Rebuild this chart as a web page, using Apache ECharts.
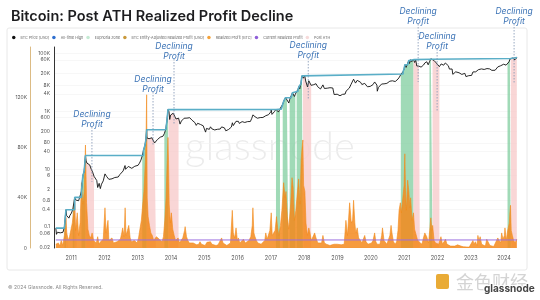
<!DOCTYPE html>
<html>
<head>
<meta charset="utf-8">
<script src="https://cdn.jsdelivr.net/npm/echarts@6/dist/echarts.min.js"></script>
<style>
html,body{margin:0;padding:0;background:#fff;}
#chart{width:540px;height:300px;}
</style>
</head>
<body>
<div id="chart"></div>
<script>
// BTC price [USD]
const btcPrice = [
['2010-07-18',0.09],['2010-07-25',0.055],['2010-08-05',0.065],['2010-08-20',0.066],['2010-09-05',0.062],['2010-09-20',0.062],['2010-10-05',0.065],['2010-10-20',0.1],['2010-11-06',0.39],['2010-11-12',0.25],['2010-11-25',0.28],['2010-12-08',0.2],['2010-12-20',0.25],
['2011-01-05',0.3],['2011-01-20',0.4],['2011-02-10',1.05],['2011-02-20',0.85],['2011-03-05',0.9],['2011-03-25',0.8],['2011-04-10',0.8],['2011-04-25',1.7],['2011-05-10',5.8],['2011-05-25',8.5],['2011-06-08',29.6],['2011-06-15',19],['2011-06-25',16],['2011-07-10',15],['2011-07-25',13.9],['2011-08-10',9.9],['2011-08-25',8],['2011-09-10',5.6],['2011-09-25',5],['2011-10-10',4],['2011-10-20',2.3],['2011-11-05',3.2],['2011-11-18',2.1],['2011-12-01',3],['2011-12-20',3.9],
['2012-01-08',6.8],['2012-01-25',5.6],['2012-02-10',5.8],['2012-02-20',4.4],['2012-03-10',4.9],['2012-03-25',4.6],['2012-04-10',4.9],['2012-04-25',5.1],['2012-05-15',5],['2012-06-01',5.3],['2012-06-20',6.5],['2012-07-10',7.2],['2012-07-25',8.6],['2012-08-15',13.2],['2012-08-20',9.8],['2012-09-05',11],['2012-09-20',12.3],['2012-10-10',12],['2012-10-28',10.6],['2012-11-15',11.2],['2012-11-30',12.5],['2012-12-15',13.3],
['2013-01-05',13.5],['2013-01-20',16],['2013-02-05',20.4],['2013-02-20',29],['2013-03-05',44],['2013-03-20',64],['2013-04-01',104],['2013-04-09',230],['2013-04-12',120],['2013-04-20',125],['2013-05-05',112],['2013-05-20',122],['2013-06-05',121],['2013-06-20',108],['2013-07-05',80],['2013-07-20',90],['2013-08-05',105],['2013-08-20',115],['2013-09-05',127],['2013-09-20',126],['2013-10-05',137],['2013-10-20',170],['2013-11-05',240],['2013-11-18',490],['2013-11-29',1140],['2013-12-04',1151],['2013-12-10',960],['2013-12-18',520],['2013-12-28',740],
['2014-01-10',850],['2014-01-25',860],['2014-02-10',680],['2014-02-25',540],['2014-03-10',620],['2014-03-25',580],['2014-04-10',360],['2014-04-25',460],['2014-05-10',440],['2014-05-25',575],['2014-06-10',650],['2014-06-25',580],['2014-07-10',625],['2014-07-25',600],['2014-08-10',590],['2014-08-20',490],['2014-09-05',480],['2014-09-20',405],['2014-10-05',325],['2014-10-20',385],['2014-11-05',340],['2014-11-20',350],['2014-12-05',375],['2014-12-20',315],
['2015-01-05',275],['2015-01-15',190],['2015-01-25',255],['2015-02-10',220],['2015-02-25',237],['2015-03-10',290],['2015-03-25',247],['2015-04-10',236],['2015-04-25',226],['2015-05-10',242],['2015-05-25',238],['2015-06-10',229],['2015-06-25',243],['2015-07-10',288],['2015-07-25',289],['2015-08-10',266],['2015-08-25',211],['2015-09-10',240],['2015-09-25',235],['2015-10-10',245],['2015-10-25',285],['2015-11-05',400],['2015-11-15',320],['2015-11-30',375],['2015-12-15',450],['2015-12-30',428],
['2016-01-10',447],['2016-01-20',380],['2016-02-05',387],['2016-02-20',438],['2016-03-05',400],['2016-03-20',410],['2016-04-05',422],['2016-04-20',440],['2016-05-05',448],['2016-05-20',442],['2016-06-05',575],['2016-06-17',750],['2016-06-28',640],['2016-07-10',650],['2016-07-25',655],['2016-08-05',575],['2016-08-20',580],['2016-09-05',606],['2016-09-20',610],['2016-10-05',610],['2016-10-20',630],['2016-11-05',703],['2016-11-20',730],['2016-12-05',760],['2016-12-20',790],['2016-12-31',963],
['2017-01-04',1150],['2017-01-12',780],['2017-01-25',890],['2017-02-10',990],['2017-02-25',1180],['2017-03-10',1190],['2017-03-24',940],['2017-04-10',1210],['2017-04-25',1270],['2017-05-10',1760],['2017-05-25',2400],['2017-06-10',2950],['2017-06-25',2500],['2017-07-10',2350],['2017-07-16',1930],['2017-07-25',2560],['2017-08-10',3400],['2017-08-25',4350],['2017-09-01',4900],['2017-09-15',3250],['2017-09-25',3900],['2017-10-10',4780],['2017-10-25',5750],['2017-11-08',7450],['2017-11-12',5900],['2017-11-25',8750],['2017-12-07',16800],['2017-12-17',19500],['2017-12-22',14000],['2017-12-31',14150],
['2018-01-06',17200],['2018-01-17',11200],['2018-01-28',11800],['2018-02-06',6950],['2018-02-20',11400],['2018-03-05',11500],['2018-03-18',7900],['2018-04-01',6850],['2018-04-15',8350],['2018-04-28',9400],['2018-05-10',9000],['2018-05-28',7100],['2018-06-12',6500],['2018-06-28',5900],['2018-07-10',6350],['2018-07-25',8200],['2018-08-10',6150],['2018-08-25',6700],['2018-09-10',6300],['2018-09-25',6450],['2018-10-10',6550],['2018-10-25',6400],['2018-11-10',6400],['2018-11-25',3800],['2018-12-15',3250],['2018-12-28',3900],
['2019-01-10',3650],['2019-01-28',3450],['2019-02-10',3650],['2019-02-25',3850],['2019-03-10',3950],['2019-03-25',3950],['2019-04-05',5000],['2019-04-25',5450],['2019-05-10',6350],['2019-05-30',8650],['2019-06-10',8000],['2019-06-26',12900],['2019-07-10',12100],['2019-07-17',9450],['2019-08-05',11750],['2019-08-25',10150],['2019-09-10',10150],['2019-09-25',8450],['2019-10-10',8600],['2019-10-26',9250],['2019-11-10',8800],['2019-11-25',7050],['2019-12-10',7250],['2019-12-25',7250],
['2020-01-10',8050],['2020-01-25',8400],['2020-02-12',10350],['2020-02-25',9300],['2020-03-08',8050],['2020-03-12',4950],['2020-03-25',6700],['2020-04-10',6900],['2020-04-29',8800],['2020-05-10',8750],['2020-05-25',8900],['2020-06-10',9900],['2020-06-25',9250],['2020-07-10',9250],['2020-07-28',11000],['2020-08-10',11900],['2020-08-25',11350],['2020-09-10',10350],['2020-09-25',10700],['2020-10-10',11300],['2020-10-25',13000],['2020-11-10',15300],['2020-11-25',18750],['2020-12-10',18300],['2020-12-20',23850],['2020-12-31',28950],
['2021-01-08',40600],['2021-01-22',33000],['2021-02-08',46200],['2021-02-21',57500],['2021-02-28',45200],['2021-03-13',61200],['2021-03-25',52000],['2021-04-13',63500],['2021-04-25',49000],['2021-05-08',58800],['2021-05-19',37000],['2021-05-30',35700],['2021-06-10',36700],['2021-06-22',32500],['2021-07-05',33800],['2021-07-20',29800],['2021-08-01',39900],['2021-08-15',47000],['2021-09-06',51800],['2021-09-21',40600],['2021-10-05',51500],['2021-10-20',66000],['2021-11-08',67500],['2021-11-25',57000],['2021-12-05',49400],['2021-12-20',46700],
['2022-01-05',43400],['2022-01-22',35100],['2022-02-10',43500],['2022-02-24',38300],['2022-03-10',39400],['2022-03-28',47100],['2022-04-15',40500],['2022-04-30',37700],['2022-05-12',28900],['2022-05-28',29400],['2022-06-10',29100],['2022-06-18',19000],['2022-07-05',20200],['2022-07-20',23200],['2022-08-10',23900],['2022-08-25',21600],['2022-09-10',21800],['2022-09-25',18900],['2022-10-10',19100],['2022-10-28',20600],['2022-11-09',15900],['2022-11-25',16500],['2022-12-10',17100],['2022-12-28',16550],
['2023-01-10',17450],['2023-01-25',23000],['2023-02-10',21600],['2023-02-25',23200],['2023-03-10',20200],['2023-03-25',27500],['2023-04-14',30500],['2023-04-28',29300],['2023-05-12',26800],['2023-05-28',28000],['2023-06-14',25100],['2023-06-28',30100],['2023-07-13',31400],['2023-07-28',29300],['2023-08-12',29400],['2023-08-20',26100],['2023-09-10',25800],['2023-09-25',26300],['2023-10-10',27400],['2023-10-25',34500],['2023-11-10',37300],['2023-11-25',37700],['2023-12-08',44200],['2023-12-28',42600],
['2024-01-10',46600],['2024-01-23',39500],['2024-02-08',45300],['2024-02-25',51700],['2024-03-05',63700],['2024-03-14',73100],['2024-03-20',67900],['2024-04-01',69700],['2024-04-15',63400],['2024-04-30',60600],['2024-05-10',60800],['2024-05-20',71400]
];

// all-time high steps (date the new high was set, value)
const allTimeHigh = [
['2010-07-18',0.09],['2010-10-20',0.1],['2010-11-06',0.39],['2011-02-10',1.05],['2011-04-25',1.7],['2011-05-10',5.8],['2011-05-25',8.5],['2011-06-08',29.6],
['2013-03-05',44],['2013-03-20',64],['2013-04-01',104],['2013-04-09',230],
['2013-11-05',240],['2013-11-18',490],['2013-11-29',1140],['2013-12-04',1151],
['2017-02-25',1180],['2017-03-10',1190],['2017-04-25',1270],['2017-05-10',1760],['2017-05-25',2400],['2017-06-10',2950],['2017-08-10',3400],['2017-08-25',4350],['2017-09-01',4900],['2017-10-25',5750],['2017-11-08',7450],['2017-11-25',8750],['2017-12-07',16800],['2017-12-17',19500],
['2020-12-20',23850],['2020-12-31',28950],['2021-01-08',40600],['2021-02-08',46200],['2021-02-21',57500],['2021-03-13',61200],['2021-04-13',63500],['2021-10-20',66000],['2021-11-08',67500],
['2024-03-14',73100],['2024-05-22',73100]
];

// realized profit [BTC]
const realizedProfit = [
['2010-07-18',3000],['2010-08-01',1500],['2010-08-15',4000],['2010-09-01',1500],['2010-09-15',6000],['2010-10-01',2000],['2010-10-20',10000],['2010-11-06',24000],['2010-11-15',12000],['2010-12-01',6000],['2010-12-15',9000],
['2011-01-01',10000],['2011-01-15',20000],['2011-02-08',36000],['2011-02-20',14000],['2011-03-10',28000],['2011-03-25',10000],['2011-04-10',20000],['2011-04-25',52000],['2011-05-10',35000],['2011-05-25',45000],['2011-06-08',82000],['2011-06-20',36000],['2011-07-05',15000],['2011-07-20',10000],['2011-08-05',8000],['2011-08-20',12000],['2011-09-05',6000],['2011-09-20',5000],['2011-10-05',4000],['2011-10-20',9000],['2011-11-05',3000],['2011-11-20',5000],['2011-12-05',4000],['2011-12-20',7000],
['2012-01-08',32000],['2012-01-20',12000],['2012-02-10',22000],['2012-02-20',6000],['2012-03-10',5000],['2012-03-25',8000],['2012-04-10',4000],['2012-05-01',3000],['2012-05-20',5000],['2012-06-10',4000],['2012-06-25',7000],['2012-07-10',12000],['2012-07-20',16000],['2012-08-05',9000],['2012-08-16',32000],['2012-08-25',10000],['2012-09-10',14000],['2012-09-25',18000],['2012-10-10',8000],['2012-10-25',5000],['2012-11-10',4000],['2012-11-25',6000],['2012-12-10',5000],['2012-12-25',4000],
['2013-01-10',8000],['2013-01-25',15000],['2013-02-10',22000],['2013-02-25',35000],['2013-03-10',45000],['2013-03-25',68000],['2013-04-03',90000],['2013-04-09',122000],['2013-04-15',40000],['2013-04-25',25000],['2013-05-10',18000],['2013-05-25',12000],['2013-06-10',10000],['2013-06-25',6000],['2013-07-10',5000],['2013-07-25',9000],['2013-08-10',8000],['2013-08-25',7000],['2013-09-10',6000],['2013-09-25',5000],['2013-10-10',9000],['2013-10-25',22000],['2013-11-08',40000],['2013-11-18',64000],['2013-11-29',88000],['2013-12-05',70000],['2013-12-12',35000],['2013-12-25',20000],
['2014-01-05',28000],['2014-01-20',15000],['2014-02-05',10000],['2014-02-20',6000],['2014-03-05',5000],['2014-03-20',8000],['2014-04-05',4000],['2014-04-20',6000],['2014-05-10',8000],['2014-05-30',14000],['2014-06-05',17000],['2014-06-20',9000],['2014-07-05',6000],['2014-07-20',4000],['2014-08-10',3000],['2014-09-01',4000],['2014-09-20',3000],['2014-10-10',2500],['2014-11-01',3000],['2014-11-15',5000],['2014-12-01',3000],['2014-12-20',2500],
['2015-01-10',2000],['2015-01-30',4500],['2015-02-15',3000],['2015-03-10',5000],['2015-03-25',3000],['2015-04-15',2500],['2015-05-10',2000],['2015-06-01',2500],['2015-06-20',3000],['2015-07-10',8000],['2015-07-25',4000],['2015-08-15',2500],['2015-09-05',2000],['2015-09-25',2500],['2015-10-15',4000],['2015-11-04',30000],['2015-11-15',12000],['2015-12-01',8000],['2015-12-15',16000],['2015-12-30',6000],
['2016-01-10',8000],['2016-01-25',4000],['2016-02-15',5000],['2016-03-05',7000],['2016-03-25',4000],['2016-04-15',5000],['2016-05-05',6000],['2016-05-25',9000],['2016-06-10',18000],['2016-06-17',32000],['2016-06-28',12000],['2016-07-10',9000],['2016-07-25',6000],['2016-08-10',4000],['2016-08-25',3000],['2016-09-15',3000],['2016-10-05',4000],['2016-10-25',6000],['2016-11-05',12000],['2016-11-20',7000],['2016-12-05',8000],['2016-12-20',14000],
['2017-01-04',28000],['2017-01-15',10000],['2017-01-30',9000],['2017-02-15',14000],['2017-03-03',25000],['2017-03-15',16000],['2017-03-28',10000],['2017-04-15',18000],['2017-05-01',30000],['2017-05-20',52000],['2017-06-05',40000],['2017-06-15',45000],['2017-06-30',25000],['2017-07-15',15000],['2017-08-05',35000],['2017-08-20',56000],['2017-09-02',48000],['2017-09-15',22000],['2017-10-01',30000],['2017-10-15',42000],['2017-11-01',55000],['2017-11-15',35000],['2017-11-28',70000],['2017-12-08',80000],['2017-12-17',86000],['2017-12-25',50000],
['2018-01-08',45000],['2018-01-20',20000],['2018-02-05',10000],['2018-02-20',16000],['2018-03-05',12000],['2018-03-20',6000],['2018-04-05',5000],['2018-04-25',12000],['2018-05-10',8000],['2018-05-30',4000],['2018-06-20',3000],['2018-07-10',4000],['2018-07-25',10000],['2018-08-10',4000],['2018-09-01',3000],['2018-09-20',2500],['2018-10-10',2000],['2018-11-01',2500],['2018-11-25',3000],['2018-12-15',2000],['2018-12-30',3000],
['2019-01-15',2000],['2019-02-10',2500],['2019-02-25',4000],['2019-03-15',3000],['2019-04-03',22000],['2019-04-20',10000],['2019-05-14',36000],['2019-06-01',20000],['2019-06-15',22000],['2019-06-26',38000],['2019-07-10',20000],['2019-07-20',12000],['2019-08-05',16000],['2019-08-20',8000],['2019-09-10',6000],['2019-09-25',4000],['2019-10-10',3000],['2019-10-26',10000],['2019-11-10',5000],['2019-12-01',3000],['2019-12-20',2500],
['2020-01-10',4000],['2020-01-25',6000],['2020-02-12',12000],['2020-02-25',5000],['2020-03-10',3000],['2020-03-25',4000],['2020-04-10',3000],['2020-04-29',10000],['2020-05-08',16000],['2020-05-25',6000],['2020-06-10',5000],['2020-06-25',3000],['2020-07-10',2500],['2020-07-28',10000],['2020-08-10',18000],['2020-08-20',12000],['2020-09-05',5000],['2020-09-25',3000],['2020-10-10',5000],['2020-10-25',14000],['2020-11-06',30000],['2020-11-20',36000],['2020-12-01',28000],['2020-12-17',40000],['2020-12-31',50000],
['2021-01-08',75000],['2021-01-15',48000],['2021-01-25',30000],['2021-02-08',54000],['2021-02-21',45000],['2021-03-05',32000],['2021-03-13',40000],['2021-03-28',22000],['2021-04-13',28000],['2021-04-25',15000],['2021-05-10',14000],['2021-05-25',7000],['2021-06-10',5000],['2021-06-25',4000],['2021-07-15',3000],['2021-07-31',8000],['2021-08-15',12000],['2021-09-05',9000],['2021-09-25',4000],['2021-10-08',14000],['2021-10-20',24000],['2021-11-01',14000],['2021-11-09',18000],['2021-11-25',6000],['2021-12-10',4000],['2021-12-28',3000],
['2022-01-15',3000],['2022-02-08',9000],['2022-02-25',3000],['2022-03-15',2500],['2022-03-30',7000],['2022-04-15',3000],['2022-05-05',2500],['2022-05-25',1500],['2022-06-15',1000],['2022-07-10',1500],['2022-08-10',2500],['2022-08-25',1200],['2022-09-15',1500],['2022-10-10',1000],['2022-10-30',2000],['2022-11-20',800],['2022-12-15',700],
['2023-01-05',800],['2023-01-25',6000],['2023-02-05',3000],['2023-02-20',5000],['2023-03-10',2000],['2023-03-20',10000],['2023-04-01',6000],['2023-04-14',9000],['2023-04-30',3000],['2023-05-20',2000],['2023-06-10',1500],['2023-06-25',7000],['2023-07-13',6000],['2023-07-30',2000],['2023-08-20',1500],['2023-09-10',1200],['2023-10-01',2000],['2023-10-24',8000],['2023-11-10',6000],['2023-11-25',4000],['2023-12-06',12000],['2023-12-20',7000],
['2024-01-05',10000],['2024-01-11',16000],['2024-01-25',6000],['2024-02-10',14000],['2024-02-28',20000],['2024-03-05',28000],['2024-03-12',34000],['2024-03-20',14000],['2024-04-01',10000],['2024-04-15',6000],['2024-05-01',4000],['2024-05-20',7000]
];

const currentProfit = 6400;

// green "euphoria" stretches and pink "post ATH" stretches
const euphoriaRanges = [
['2010-10-20','2010-11-06'],['2011-01-20','2011-02-10'],['2011-04-25','2011-06-08'],
['2013-02-20','2013-04-09'],['2013-10-20','2013-12-04'],
['2017-02-25','2017-04-10'],['2017-05-10','2017-07-10'],['2017-07-25','2017-09-25'],['2017-10-10','2017-12-17'],
['2020-11-25','2021-04-13'],['2021-10-05','2021-11-08'],['2024-02-08','2024-03-14']
];
const postAthRanges = [
['2010-11-06','2010-11-25'],['2011-02-10','2011-03-05'],['2011-06-08','2011-09-10'],
['2013-04-09','2013-07-20'],['2013-12-04','2014-03-25'],['2017-12-17','2018-03-18'],
['2021-04-13','2021-06-22'],['2021-11-08','2022-01-22'],['2024-03-14','2024-05-20']
];

// "Declining Profit" call-outs: date, top of dotted line, bottom of dotted line (price units)
const annDates = ['2011-08-18','2013-06-18','2014-02-03','2018-02-14','2021-06-03','2021-12-28','2024-04-20'];
const annTop = [286,4650,64500,70000,1050000,143000,1050000];
const annBottom = [3.6,68,335,2450,10300,945,9500];

const priceTicks = [0.02,0.06,0.1,0.4,0.8,2,6,10,40,80,200,600,1000,4000,8000,20000,60000,100000];

const zoneData = (ranges)=>{
   let out = [];
   ranges.forEach(r=>{
      let a = +new Date(r[0]), b = +new Date(r[1]);
      btcPrice.forEach(p=>{
         let t = +new Date(p[0]);
         if(t>=a && t<=b) out.push(p);
      });
      out.push([r[1], null]);
   });
   return out;
}

const kFmt = (v)=>{
   v = Number(Number(v).toPrecision(3));
   return v>=1000 ? (v/1000)+'K' : String(v);
}

const YEAR = 365.25*24*3600*1000;
const chart = echarts.init(document.getElementById('chart'));
const option = {
   animation:false,
   textStyle:{fontFamily:'Inter'},
   title:{
      text:'Bitcoin: Post ATH Realized Profit Decline',
      left:6, top:4,
      textStyle:{fontFamily:'Inter', fontWeight:600, fontSize:14.5, color:'#1d1d1f'}
   },
   legend:{
      left:12, top:35.5, padding:0, icon:'circle', itemWidth:3.5, itemHeight:3.5, itemGap:3,
      textStyle:{fontSize:3.7, color:'#666'},
      data:['BTC Price [USD]','All-time High','Euphoria Zone','BTC Entity-Adjusted Realized Profit [USD]','Realized Profit [BTC]','Current Realized Profit','Post ATH']
   },
   grid:{left:54, right:23, top:47, bottom:52},
   xAxis:{
      type:'time', min:'2010-06-28', max:'2024-05-22',
      minInterval:YEAR*0.99, maxInterval:YEAR*1.01,
      axisLine:{show:false, onZero:false}, axisTick:{show:false}, splitLine:{show:false},
      axisLabel:{fontSize:5.5, color:'#555', margin:7, showMinLabel:false, showMaxLabel:false,
         formatter:(v)=>String(new Date(v).getFullYear())}
   },
   yAxis:[
      {
         type:'log', logBase:10, min:0.0185, max:168000, position:'left',
         axisLine:{show:true, lineStyle:{color:'#333', width:1}},
         axisTick:{show:false, customValues:priceTicks},
         axisLabel:{customValues:priceTicks, fontSize:5, color:'#555', margin:4, formatter:kFmt},
         splitLine:{show:true, lineStyle:{color:'#f1f1f1', width:0.6}}
      },
      {
         type:'value', min:0, max:160000, interval:40000, position:'left', offset:24,
         axisLine:{show:true, lineStyle:{color:'#dcbb84', width:1}},
         axisTick:{show:false},
         axisLabel:{fontSize:5, color:'#555', margin:3, showMaxLabel:false, formatter:kFmt},
         splitLine:{show:false}
      }
   ],
   series:[
      {
         name:'Euphoria Zone', type:'line', yAxisIndex:0, data:zoneData(euphoriaRanges),
         symbol:'none', connectNulls:false, lineStyle:{width:0},
         areaStyle:{color:'#8fd3aa', opacity:0.85, origin:'start'},
         itemStyle:{color:'#c4ead3'}, z:1
      },
      {
         name:'Post ATH', type:'line', yAxisIndex:0, data:zoneData(postAthRanges),
         symbol:'none', connectNulls:false, lineStyle:{width:0},
         areaStyle:{color:'#f8cfcf', opacity:0.85, origin:'start'},
         itemStyle:{color:'#f6dada'}, z:1
      },
      {
         name:'Realized Profit [BTC]', type:'line', yAxisIndex:1, data:realizedProfit,
         symbol:'none', lineStyle:{width:0.6, color:'#f28a1a'},
         areaStyle:{color:'#f5891c', opacity:0.85},
         itemStyle:{color:'#f5a23a'}, z:2
      },
      {
         name:'BTC Entity-Adjusted Realized Profit [USD]', type:'line', yAxisIndex:1, data:[],
         itemStyle:{color:'#c9993b'}
      },
      {
         name:'Current Realized Profit', type:'line', yAxisIndex:1,
         data:[[btcPrice[0][0], currentProfit],['2024-05-22', currentProfit]],
         symbol:'none', lineStyle:{color:'#9b6fe0', width:1}, itemStyle:{color:'#8f5fd8'}, z:3
      },
      {
         name:'BTC Price [USD]', type:'line', yAxisIndex:0, data:btcPrice,
         symbol:'none', lineStyle:{color:'#111', width:0.9}, itemStyle:{color:'#111'}, z:4
      },
      {
         name:'All-time High', type:'line', step:'end', yAxisIndex:0, data:allTimeHigh,
         symbol:'none', lineStyle:{color:'#5aaec7', width:1.6}, itemStyle:{color:'#2f6fcf'}, z:5
      },
      {
         type:'custom', yAxisIndex:0, silent:true, z:6,
         data:annDates.map((d,i)=>[d, annTop[i], annBottom[i]]),
         encode:{x:0, y:1},
         renderItem:(params, api)=>{
            let top = api.coord([api.value(0), api.value(1)]);
            let bot = api.coord([api.value(0), api.value(2)]);
            return {
               type:'group',
               children:[
                  {type:'line', shape:{x1:top[0], y1:top[1], x2:bot[0], y2:bot[1]},
                   style:{stroke:'#7f93b3', lineWidth:0.8, lineDash:[1.5,1.5]}},
                  {type:'text', x:top[0], y:top[1]+2,
                   style:{text:'Declining\nProfit', align:'center', verticalAlign:'bottom',
                      fill:'#3d74b6', font:'italic 8.5px Inter', lineHeight:9.5}}
               ]
            };
         }
      }
   ],
   graphic:[
      {type:'rect', silent:true, z:-10, shape:{x:7, y:28, width:520, height:242, r:2},
       style:{fill:'none', stroke:'#e8e8e8', lineWidth:1}},
      {type:'text', silent:true, z:0, x:270, y:147,
       style:{text:'glassnode', font:'300 40px Lato', fill:'rgba(0,0,0,0.08)', align:'center', verticalAlign:'middle'}},
      {type:'text', silent:true, x:8, y:287,
       style:{text:'\u00a9 2024 Glassnode. All Rights Reserved.', font:'5px Inter', fill:'#8a8a8a', verticalAlign:'middle'}},
      {type:'rect', silent:true, shape:{x:436, y:274, width:13, height:15, r:2}, style:{fill:'#e9ab36'}},
      {type:'text', silent:true, x:456, y:282,
       style:{text:'金色财经', font:'18px "Noto Sans CJK SC"', fill:'#d4d4d4', verticalAlign:'middle'}},
      {type:'text', silent:true, x:484, y:289,
       style:{text:'glassnode', font:'bold 10px Inter', fill:'#444', stroke:'#fff', lineWidth:2, verticalAlign:'middle'}}
   ]
};
chart.setOption(option);
</script>
</body>
</html>
